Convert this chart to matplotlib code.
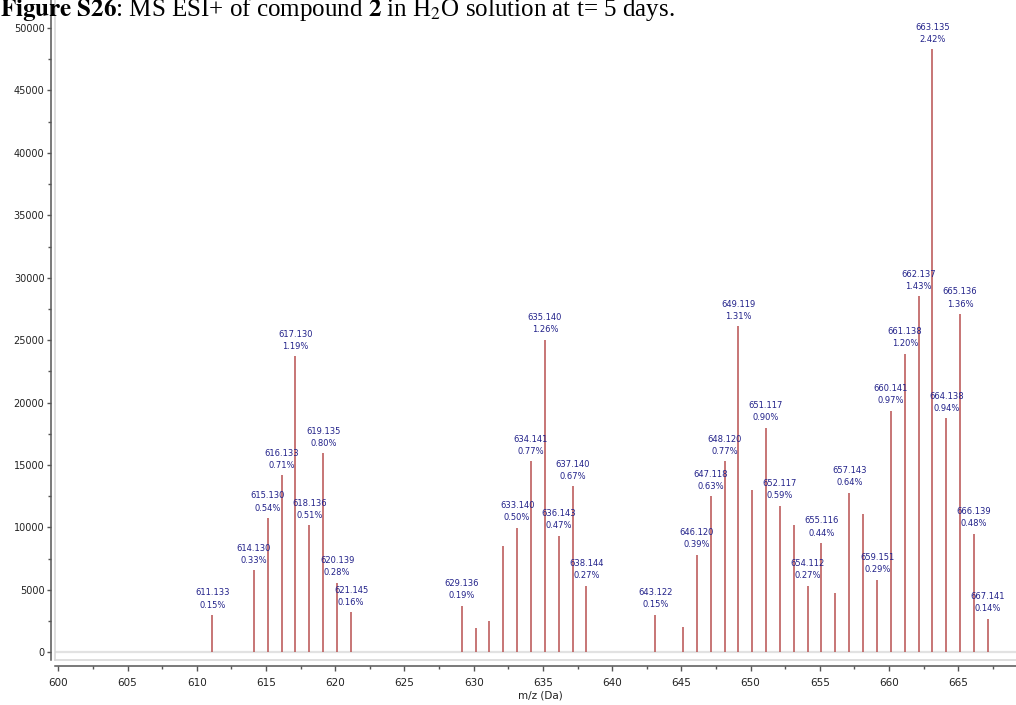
import matplotlib
matplotlib.use("Agg")
import matplotlib.pyplot as plt
from matplotlib.lines import Line2D
from matplotlib.ticker import MultipleLocator

# ---- data ----
mz_labeled = [611.133, 614.130, 615.130, 616.133, 617.130, 618.136, 619.135, 620.139, 621.145,
              629.136, 633.140, 634.141, 635.140, 636.143, 637.140, 638.144,
              643.122, 646.120, 647.118, 648.120, 649.119, 651.117, 652.117, 654.112, 655.116,
              657.143, 659.151, 660.141, 661.138, 662.137, 663.135, 664.138, 665.136, 666.139, 667.141]
int_labeled = [2980, 6570, 10750, 14160, 23700, 10170, 15940, 5590, 3200,
               3740, 9960, 15300, 25050, 9350, 13280, 5340,
               3000, 7800, 12500, 15300, 26100, 17970, 11730, 5330, 8740,
               12790, 5820, 19360, 23890, 28500, 48300, 18740, 27080, 9500, 2700]
pct_labeled = ["0.15%", "0.33%", "0.54%", "0.71%", "1.19%", "0.51%", "0.80%", "0.28%", "0.16%",
               "0.19%", "0.50%", "0.77%", "1.26%", "0.47%", "0.67%", "0.27%",
               "0.15%", "0.39%", "0.63%", "0.77%", "1.31%", "0.90%", "0.59%", "0.27%", "0.44%",
               "0.64%", "0.29%", "0.97%", "1.20%", "1.43%", "2.42%", "0.94%", "1.36%", "0.48%", "0.14%"]
mz_unlabeled = [630.14, 631.14, 632.14, 645.12, 650.12, 653.12, 656.12, 658.14]
int_unlabeled = [1950, 2480, 8490, 2030, 12990, 10170, 4730, 11060]

x_ticks = list(range(600, 670, 5))
y_ticks = list(range(0, 50001, 5000))

# ---- figure ----
W, H, DPI = 1016, 705, 100
fig = plt.figure(figsize=(W / DPI, H / DPI), dpi=DPI)
ax = fig.add_axes([55 / W, (H - 660) / H, (W - 55) / W, 660 / H])

ax.set_xlim(599.76, 669.17)
ax.set_ylim(-617, 52243)

peak_color = "#b85050"
ax.axhline(0, color="#e2e2e2", lw=1.6, zorder=1)
ax.vlines(mz_unlabeled, 0, int_unlabeled, color=peak_color, lw=1.1, zorder=2)
ax.vlines(mz_labeled, 0, int_labeled, color=peak_color, lw=1.1, zorder=2)

for m, h, p in zip(mz_labeled, int_labeled, pct_labeled):
    ax.annotate(f"{m:.3f}\n{p}", xy=(m, h), xytext=(0, 4), textcoords="offset points",
                ha="center", va="bottom", fontsize=6, color="#22228a",
                linespacing=1.45, family="DejaVu Sans", zorder=3)

# spines
for s in ["top", "right"]:
    ax.spines[s].set_visible(False)
ax.spines["left"].set_position(("outward", 3.1))
ax.spines["bottom"].set_position(("outward", 4.1))
for s in ["left", "bottom"]:
    ax.spines[s].set_color("#555555")
    ax.spines[s].set_linewidth(1.1)

# light inner frame
ax.add_line(Line2D([0, 0], [0, 1], transform=ax.transAxes, color="#d6d6d6", lw=1.1, clip_on=False))
ax.add_line(Line2D([0, 1], [0, 0], transform=ax.transAxes, color="#d6d6d6", lw=1.1, clip_on=False))

ax.set_xticks(x_ticks)
ax.set_yticks(y_ticks)
ax.xaxis.set_minor_locator(MultipleLocator(2.5))
ax.yaxis.set_minor_locator(MultipleLocator(2500))
ax.tick_params(axis="y", which="major", length=3, width=1, color="#555555", pad=1.5,
               labelsize=7, labelcolor="#222222")
ax.tick_params(axis="y", which="minor", length=2, width=1, color="#555555")
ax.tick_params(axis="x", which="major", length=3.5, width=1, color="#555555", pad=5,
               labelsize=7.5, labelcolor="#222222")
ax.tick_params(axis="x", which="minor", length=2, width=1, color="#555555")
for lab in ax.get_xticklabels() + ax.get_yticklabels():
    lab.set_family("DejaVu Sans")

fig.text(540 / W, 1 - 695 / H, "m/z (Da)", ha="center", va="center", fontsize=7.5,
         color="#222222", family="DejaVu Sans")

# cropped caption at the top (cut off in the reference as well)
plt.rcParams["mathtext.fontset"] = "stix"
fig.text(0 / W, 1 - 16 / H,
         r"$\mathbf{Figure\ S26}$: MS ESI+ of compound $\mathbf{2}$ in H$_2$O solution at t= 5 days.",
         ha="left", va="baseline", fontsize=18, family="Liberation Serif", color="black")

fig.savefig("out.png", dpi=DPI)
